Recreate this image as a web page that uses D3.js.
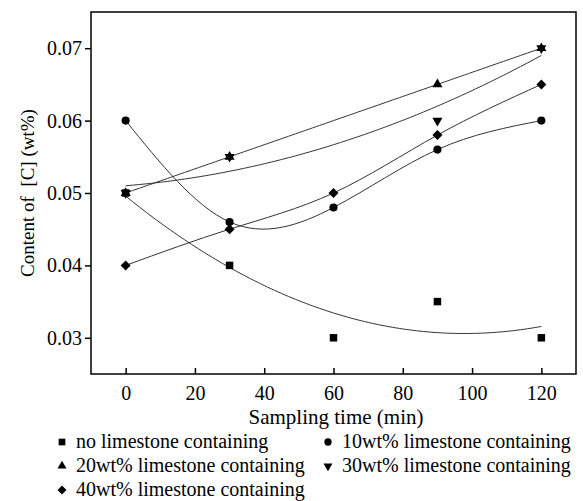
<!DOCTYPE html>
<html>
<head>
<meta charset="utf-8">
<script src="https://cdn.jsdelivr.net/npm/d3@7"></script>
<style>
  body { margin: 0; background: #fff; }
  svg text { font-family: "Liberation Serif", "Times New Roman", Times, "DejaVu Serif", serif !important; fill: #000; }
</style>
</head>
<body>
<div id="chart"></div>
<script>
// sampling times (min) and [C] content (wt%)
const times = [0, 30, 60, 90, 120];
const timesNo60 = [0, 30, 90, 120];
const noLime = [0.050, 0.040, 0.030, 0.035, 0.030];
const lime10 = [0.060, 0.046, 0.048, 0.056, 0.060];
const lime20 = [0.050, 0.055, 0.065, 0.070];
const lime30 = [0.050, 0.055, 0.060, 0.070];
const lime40 = [0.040, 0.045, 0.050, 0.058, 0.065];
const xTicks = [0, 20, 40, 60, 80, 100, 120];
const yTicks = [0.03, 0.04, 0.05, 0.06, 0.07];
const names = ["no limestone containing", "10wt% limestone containing", "20wt% limestone containing",
  "30wt% limestone containing", "40wt% limestone containing"];

let width = 583, height = 501;
let serif = "'Liberation Serif', 'Times New Roman', serif";
/** SCALES */
let x = d3.scaleLinear().domain([-10, 130]).range([91, 576]);
let y = d3.scaleLinear().domain([0.025, 0.075]).range([374, 12]);

let series = [
  {xs: times, ys: noLime, symbol: d3.symbolSquare, size: 56, rot: 0, fit: "poly"},
  {xs: times, ys: lime10, symbol: d3.symbolCircle, size: 52, rot: 0, fit: "spline"},
  {xs: timesNo60, ys: lime20, symbol: d3.symbolTriangle, size: 44, rot: 0, fit: "poly"},
  {xs: timesNo60, ys: lime30, symbol: d3.symbolTriangle, size: 44, rot: 180, fit: "poly"},
  {xs: times, ys: lime40, symbol: d3.symbolSquare, size: 50, rot: 45, fit: "spline"}
];

// least squares 2nd order polynomial
function quadFit(xs, ys){
  let s = [0,0,0,0,0], t = [0,0,0];
  xs.forEach((xv, i)=>{
    for(let k=0;k<5;k++) s[k] += Math.pow(xv, k);
    for(let k=0;k<3;k++) t[k] += Math.pow(xv, k)*ys[i];
  });
  let m = [[s[0],s[1],s[2],t[0]],[s[1],s[2],s[3],t[1]],[s[2],s[3],s[4],t[2]]];
  for(let c=0;c<3;c++){
    for(let r=c+1;r<3;r++){
      let f = m[r][c]/m[c][c];
      for(let k=c;k<4;k++) m[r][k] -= f*m[c][k];
    }
  }
  let coef = [0,0,0];
  for(let r=2;r>=0;r--){
    let v = m[r][3];
    for(let k=r+1;k<3;k++) v -= m[r][k]*coef[k];
    coef[r] = v/m[r][r];
  }
  return (xv)=> coef[0] + coef[1]*xv + coef[2]*xv*xv;
}

/** SVG */
let svg = d3.select("#chart").append("svg")
  .attr("width", width)
  .attr("height", height)
  .attr("font-family", serif);

/** AXES */
let yAxis = svg.append("g")
  .attr("transform", "translate(91,0)")
  .call(d3.axisLeft(y).tickValues(yTicks).tickFormat(d3.format(".2f")).tickSizeInner(6).tickSizeOuter(0).tickPadding(3));
let xAxis = svg.append("g")
  .attr("transform", "translate(0,374)")
  .call(d3.axisBottom(x).tickValues(xTicks).tickSizeInner(-6).tickSizeOuter(0).tickPadding(12));
[xAxis, yAxis].forEach((g)=>{
  g.attr("font-family", serif).attr("font-size", 20);
  g.select(".domain").remove();
  g.selectAll(".tick line").attr("stroke", "#000").attr("stroke-width", 1.5);
  g.selectAll(".tick text").attr("font-size", 20);
});

svg.append("rect")
  .attr("x", 91).attr("y", 12)
  .attr("width", 576-91).attr("height", 374-12)
  .attr("fill", "none")
  .attr("stroke", "#000")
  .attr("stroke-width", 1.5);

/** LINES */
let line = d3.line().x((d)=>x(d[0])).y((d)=>y(d[1]));
series.forEach((s)=>{
  let pts;
  if(s.fit === "poly"){
    let f = quadFit(s.xs, s.ys);
    pts = d3.range(s.xs[0], s.xs[s.xs.length-1]+0.5, 1).map((t)=>[t, f(t)]);
    line.curve(d3.curveLinear);
  } else {
    pts = s.xs.map((t, i)=>[t, s.ys[i]]);
    line.curve(d3.curveNatural);
  }
  svg.append("path")
    .attr("d", line(pts))
    .attr("fill", "none")
    .attr("stroke", "#333")
    .attr("stroke-width", 1);
});

/** MARKERS */
series.forEach((s)=>{
  svg.append("g").selectAll("path")
    .data(s.xs.map((t, i)=>[t, s.ys[i]]))
    .enter().append("path")
    .attr("d", d3.symbol().type(s.symbol).size(s.size))
    .attr("transform", (d)=>`translate(${x(d[0])},${y(d[1])}) rotate(${s.rot})`)
    .attr("fill", "#000");
});

/** TITLES */
svg.append("text")
  .text("Sampling time (min)")
  .attr("x", 336).attr("y", 424)
  .attr("text-anchor", "middle")
  .attr("font-size", 21);
svg.append("text")
  .text("Content of  [C] (wt%)")
  .style("white-space", "pre")
  .attr("transform", "translate(34,193) rotate(-90)")
  .attr("text-anchor", "middle")
  .attr("font-size", 19);

/** LEGEND */
let legendPos = [[62,448],[328,448],[62,472],[328,472],[62,496]];
series.forEach((s, i)=>{
  let p = legendPos[i];
  svg.append("path")
    .attr("d", d3.symbol().type(s.symbol).size(s.size*0.8))
    .attr("transform", `translate(${p[0]},${p[1]-6}) rotate(${s.rot})`)
    .attr("fill", "#000");
  svg.append("text")
    .text(names[i])
    .attr("x", p[0]+14).attr("y", p[1])
    .attr("font-size", 20);
});
</script>
</body>
</html>
